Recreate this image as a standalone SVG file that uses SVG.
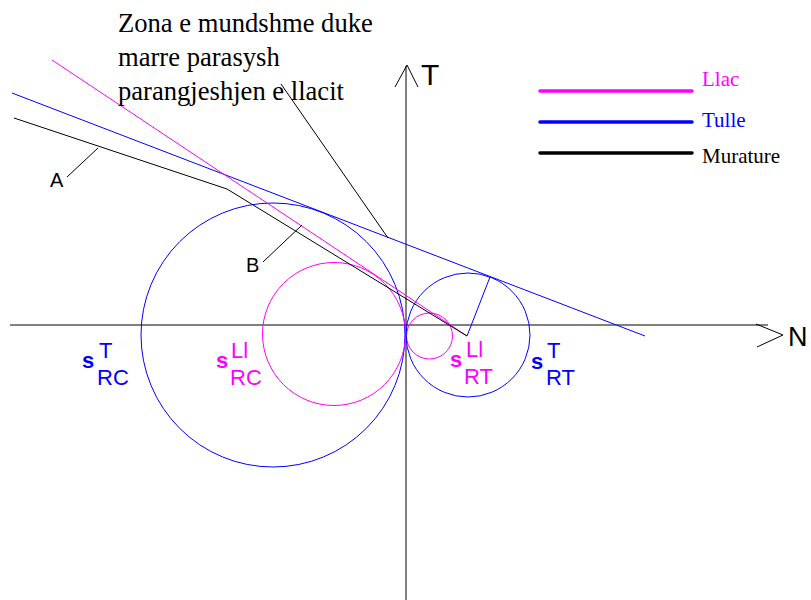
<svg xmlns="http://www.w3.org/2000/svg" width="811" height="600" viewBox="0 0 811 600">
<style>
.ax{stroke:#000;stroke-width:1;fill:none}
.b{stroke:#0000FF;stroke-width:1;fill:none}
.m{stroke:#FF00FF;stroke-width:1;fill:none}
.k{stroke:#000;stroke-width:1;fill:none}
.leg{stroke-width:3.5;stroke-linecap:round;fill:none}
.tms{font-family:"Liberation Serif","Times New Roman",serif}
.ar{font-family:"Liberation Sans",Arial,sans-serif}
.sig{font-family:"Liberation Sans",Arial,sans-serif;font-size:22px}
</style>
<rect width="811" height="600" fill="#fff"/>
<g id="axes">
<line class="ax" x1="10" y1="325" x2="768" y2="325"/>
<polyline class="ax" points="756,324 783,335 757,347"/>
<line class="ax" x1="406" y1="66" x2="406" y2="600"/>
<polyline class="ax" points="395,87 407,65 418,87"/>
<text class="ar" x="421" y="85" font-size="30">T</text>
<text class="ar" x="788" y="346" font-size="27">N</text>
</g>
<g id="circles">
<circle class="b" cx="273" cy="335" r="132"/>
<circle class="m" cx="334" cy="334" r="71.5"/>
<circle class="m" cx="429.5" cy="336" r="23"/>
<circle class="b" cx="468" cy="335" r="62"/>
</g>
<g id="connectors">
<line class="b" x1="12" y1="93" x2="645" y2="336"/>
<line class="b" x1="467" y1="336" x2="490" y2="277"/>
<line class="m" x1="52" y1="60" x2="467" y2="336"/>
<polyline class="k" points="14,118 227,189 467,336"/>
<line class="k" x1="98" y1="148" x2="67" y2="177"/>
<line class="k" x1="302" y1="225" x2="263" y2="262"/>
<line class="k" x1="281" y1="84" x2="388" y2="238"/>
</g>
<g id="labelA"><text class="ar" x="50" y="187" font-size="20">A</text></g>
<g id="labelB"><text class="ar" x="246" y="272" font-size="20">B</text></g>
<g id="zona">
<text class="tms" font-size="26.6" fill="#000"><tspan x="118" y="32">Zona e mundshme duke</tspan><tspan x="118" y="66">marre parasysh</tspan><tspan x="118" y="100">parangjeshjen e llacit</tspan></text>
</g>
<g id="legend">
<line class="leg" x1="540" y1="91" x2="692" y2="91" stroke="#FF00FF"/>
<line class="leg" x1="540" y1="122" x2="692" y2="122" stroke="#0000FF"/>
<line class="leg" x1="540" y1="153" x2="692" y2="153" stroke="#000"/>
<text class="tms" x="702" y="86" font-size="21" fill="#FF00FF">Llac</text>
<text class="tms" x="702" y="127" font-size="21" fill="#0000FF">Tulle</text>
<text class="tms" x="702" y="163" font-size="21" fill="#000">Murature</text>
</g>
<g id="sRCT" class="sig" fill="#0000FF">
<text x="82" y="368" font-weight="bold">s</text>
<text x="99" y="358">T</text>
<text x="97" y="385">RC</text>
</g>
<g id="sRCLl" class="sig" fill="#FF00FF">
<text x="216" y="368" font-weight="bold">s</text>
<text x="231" y="358">Ll</text>
<text x="230" y="385">RC</text>
</g>
<g id="sRTLl" class="sig" fill="#FF00FF">
<text x="450" y="367" font-weight="bold">s</text>
<text x="466" y="357">Ll</text>
<text x="464" y="384">RT</text>
</g>
<g id="sRTT" class="sig" fill="#0000FF">
<text x="531" y="369" font-weight="bold">s</text>
<text x="547" y="358">T</text>
<text x="546" y="385">RT</text>
</g>
</svg>
